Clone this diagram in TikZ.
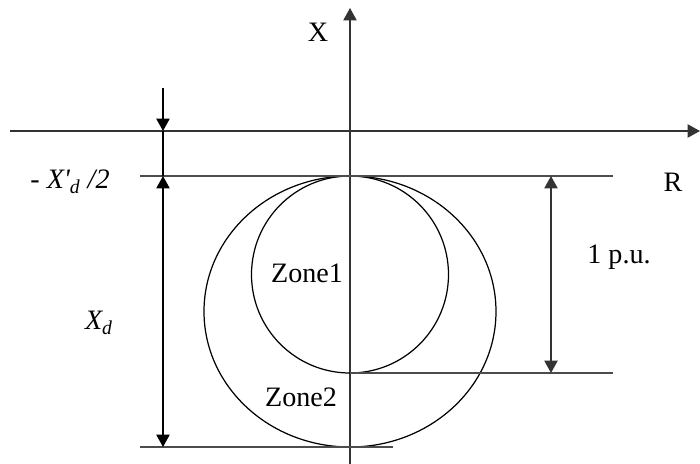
\documentclass[tikz,border=0pt]{standalone}
\usepackage{fontspec}
\setmainfont{Liberation Serif}
\usetikzlibrary{arrows.meta}

\begin{document}
\begin{tikzpicture}[
    tip/.tip={Triangle[length=7pt,width=7.5pt]},
    axis/.style={line width=0.8pt, draw=black!80},
    guide/.style={line width=0.8pt, draw=black!70},
    dim/.style={line width=0.8pt, tip-tip},
    lbl/.style={font=\fontsize{16}{19}\selectfont, inner sep=0pt}
  ]
  \useasboundingbox (-7,-6.64) rectangle (7,2.62);
  % axes
  \coordinate (O) at (0,0);
  \coordinate (xtop) at (0,2.46);
  \coordinate (xbot) at (0,-6.8);
  \coordinate (rleft) at (-6.8,0);
  \coordinate (rright) at (7,0);
  \draw[axis, -tip] (xbot) -- (xtop);
  \draw[axis, -tip] (rleft) -- (rright);
  % circles
  \draw[line width=0.7pt] (0,-2.87) circle (1.97);
  \draw[line width=0.7pt] (0,-3.61) ellipse (2.92 and 2.71);
  % reference lines
  \coordinate (t1) at (-4.2,-0.9);   \coordinate (t2) at (5.26,-0.9);
  \coordinate (m1) at (0,-4.84);     \coordinate (m2) at (5.26,-4.84);
  \coordinate (b1) at (-4.2,-6.32);  \coordinate (b2) at (0.86,-6.32);
  \draw[guide] (t1) -- (t2);
  \draw[guide] (m1) -- (m2);
  \draw[guide] (b1) -- (b2);
  % dimension arrows
  \coordinate (a0) at (-3.74,0.86);
  \coordinate (a1) at (-3.74,0);
  \coordinate (a2) at (-3.74,-0.9);
  \coordinate (a3) at (-3.74,-6.32);
  \draw[line width=0.8pt, -tip] (a0) -- (a1);
  \draw[line width=0.8pt] (a1) -- (a2);
  \draw[dim] (a2) -- (a3);
  \coordinate (p1) at (4.02,-0.9);
  \coordinate (p2) at (4.02,-4.84);
  \draw[dim, draw=black!80] (p1) -- (p2);
  % labels
  \node[lbl] (xlab) at (-0.64,1.98) {X};
  \node[lbl] (rlab) at (6.46,-1.02) {R};
  \node[lbl] (xdp) at (-5.6,-1.02) {- \textit{X\textquotesingle\textsubscript{d} /2}};
  \node[lbl] (xd) at (-5.02,-3.84) {\textit{X\textsubscript{d}}};
  \node[lbl] (pu) at (5.38,-2.52) {1 p.u.};
  \node[lbl] (z1) at (-0.86,-2.84) {Zone1};
  \node[lbl] (z2) at (-0.98,-5.32) {Zone2};
\end{tikzpicture}
\end{document}
